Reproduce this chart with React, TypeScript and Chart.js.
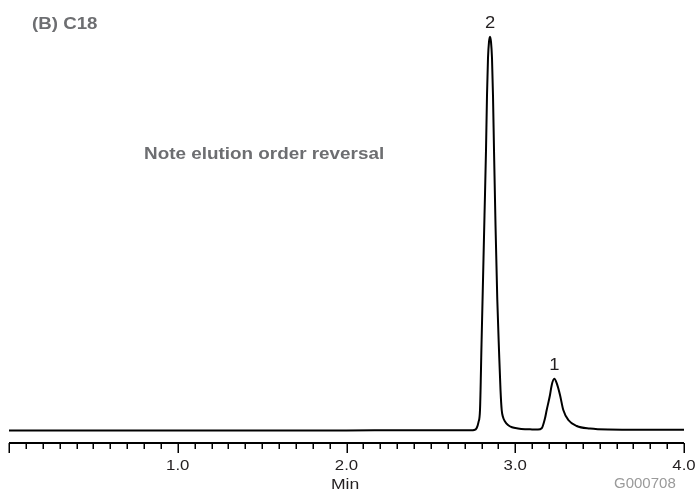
import React, { useEffect, useRef } from "react";
import { Chart, registerables } from "chart.js";

Chart.register(...registerables);

// Retention time (min) and detector response (relative, peak 2 = 100)
const timeMin = [
  0.0, 0.5, 1.0, 1.5, 2.0, 2.5, 2.74, 2.7556, 2.7716, 2.7822, 2.7911, 2.8,
  2.8089, 2.8178, 2.8267, 2.8326, 2.8385, 2.8444, 2.8504, 2.8563, 2.8622,
  2.8681, 2.8741, 2.883, 2.8936, 2.9037, 2.9126, 2.9197, 2.9274, 2.9393, 2.957,
  2.9807, 3.0163, 3.0578, 3.1, 3.1348, 3.1567, 3.1763, 3.1864, 3.2059, 3.216,
  3.2314, 3.2456, 3.2652, 3.2847, 3.3145, 3.3641, 3.443, 3.5496, 3.75, 4.0,
];
const signal = [
  -0.15, -0.15, -0.13, -0.12, -0.1, -0.08, -0.05, 0.0, 0.51, 2.0, 5.08, 21.6,
  38.1, 54.6, 71.2, 85.1, 94.6, 98.7, 100, 98.7, 94.6, 85.1, 71.2, 52.1, 33.1,
  20.3, 10.2, 5.08, 3.3, 2.16, 1.27, 0.69, 0.38, 0.2, 0.15, 0.12, 0.43, 2.97,
  5.08, 8.9, 11.4, 13.0, 11.9, 8.9, 5.08, 2.54, 1.02, 0.38, 0.13, 0.08, 0.08,
];

// Peak annotations
const peakLabels = ["2", "1"];
const peakTimes = [2.8504, 3.2314];
const peakHeights = [100, 13.0];

// Axis ticks
const axisMin = 0;
const axisMax = 4;
const minorStep = 0.1;
const majorTicks = [0, 1, 2, 3, 4];
const labelTicks = [1, 2, 3, 4];
const tickLabels = ["1.0", "2.0", "3.0", "4.0"];

const FONT = '"Liberation Sans", Arial, Helvetica, sans-serif';

const axisPlugin = {
  id: "chromAxis",
  afterDatasetsDraw(chart: any) {
    const ctx = chart.ctx;
    const xs = chart.scales.x;
    const ys = chart.scales.y;
    const yAxis = chart.chartArea.bottom;
    ctx.save();
    // axis line
    ctx.strokeStyle = "#000";
    ctx.lineWidth = 2;
    ctx.beginPath();
    ctx.moveTo(xs.getPixelForValue(axisMin), yAxis);
    ctx.lineTo(xs.getPixelForValue(axisMax), yAxis);
    ctx.stroke();
    // ticks
    ctx.lineWidth = 1.5;
    const nMinor = Math.round((axisMax - axisMin) / minorStep);
    for (let i = 0; i <= nMinor; i++) {
      const v = axisMin + i * minorStep;
      const isMajor = majorTicks.some((m) => Math.abs(m - v) < 1e-6);
      const x = Math.round(xs.getPixelForValue(v)) + 0.25;
      ctx.beginPath();
      ctx.moveTo(x, yAxis);
      ctx.lineTo(x, yAxis + (isMajor ? 10 : 6));
      ctx.stroke();
    }
    // tick labels
    ctx.fillStyle = "#231f20";
    ctx.font = `14px ${FONT}`;
    ctx.textAlign = "center";
    ctx.textBaseline = "alphabetic";
    labelTicks.forEach((v, i) => {
      ctx.save();
      ctx.translate(xs.getPixelForValue(v), 470);
      ctx.scale(1.2, 1);
      ctx.fillText(tickLabels[i], 0, 0);
      ctx.restore();
    });
    // peak labels
    ctx.fillStyle = "#231f20";
    ctx.font = `16px ${FONT}`;
    peakLabels.forEach((lab, i) => {
      ctx.save();
      ctx.translate(
        xs.getPixelForValue(peakTimes[i]),
        ys.getPixelForValue(peakHeights[i]) - 9
      );
      ctx.scale(1.15, 1);
      ctx.fillText(lab, 0, 0);
      ctx.restore();
    });
    ctx.restore();
  },
};

export default function App() {
  const ref = useRef<HTMLCanvasElement | null>(null);

  useEffect(() => {
    if (!ref.current) return;
    const chart = new Chart(ref.current, {
      type: "line",
      data: {
        datasets: [
          {
            data: timeMin.map((t, i) => ({ x: t, y: signal[i] })),
            borderColor: "#000",
            borderWidth: 2,
            pointRadius: 0,
            fill: false,
            cubicInterpolationMode: "monotone",
          },
        ],
      },
      options: {
        responsive: false,
        animation: false,
        devicePixelRatio: 1,
        layout: { padding: { left: 9, right: 11, top: 20, bottom: 49 } },
        scales: {
          x: { type: "linear", min: axisMin, max: axisMax, display: false },
          y: { type: "linear", min: -3.305, max: 104.25, display: false },
        },
        plugins: {
          legend: { display: false },
          tooltip: { enabled: false },
        },
      },
      plugins: [axisPlugin],
    } as any);
    return () => chart.destroy();
  }, []);

  const txt = (extra: React.CSSProperties): React.CSSProperties => ({
    position: "absolute",
    whiteSpace: "nowrap",
    lineHeight: 1,
    fontFamily: FONT,
    transformOrigin: "left top",
    ...extra,
  });

  return (
    <div
      style={{
        position: "fixed",
        left: 0,
        top: 0,
        width: 695,
        height: 492,
        background: "#fff",
      }}
    >
      <canvas ref={ref} width={695} height={492} style={{ display: "block" }} />
      <div
        style={txt({
          left: 32,
          top: 15,
          fontSize: 17,
          fontWeight: "bold",
          color: "#6d6e71",
          transform: "scaleX(1.1)",
        })}
      >
        (B) C18
      </div>
      <div
        style={txt({
          left: 144,
          top: 145,
          fontSize: 17,
          fontWeight: "bold",
          color: "#6d6e71",
          transform: "scaleX(1.11)",
        })}
      >
        Note elution order reversal
      </div>
      <div
        style={txt({
          left: 331,
          top: 476,
          fontSize: 15,
          color: "#231f20",
          transform: "scaleX(1.17)",
        })}
      >
        Min
      </div>
      <div
        style={txt({
          left: 614,
          top: 475,
          fontSize: 15,
          color: "#9a9a9a",
        })}
      >
        G000708
      </div>
    </div>
  );
}
